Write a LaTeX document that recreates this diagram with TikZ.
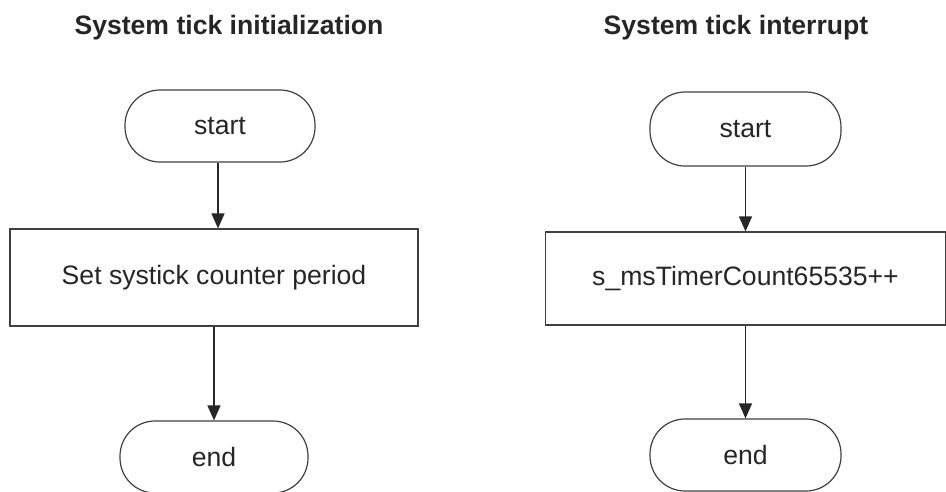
\documentclass[tikz,border=0pt]{standalone}
\usepackage{fontspec}
\setmainfont{Liberation Sans}
\usetikzlibrary{arrows.meta}
\begin{document}
\begin{tikzpicture}[x=1pt,y=-1pt,
  every node/.style={text=black!85, font=\fontsize{26.6}{30}\selectfont},
  terminal/.style={draw=black!75, line width=1.2pt, rectangle, rounded corners=35pt, inner sep=0pt},
  procbox/.style={draw=black!75, line width=1.2pt, rectangle, inner sep=0pt},
  titletext/.style={font=\fontsize{26.6}{30}\selectfont\bfseries},
  flow/.style={draw=black!85, line width=1.2pt, -{Triangle[length=15pt,width=13pt]}}]
\useasboundingbox (0,0) rectangle (946,491);
\clip (0,0) rectangle (946,491);
\fill[white] (0,0) rectangle (946,491);
% left chart
\node[titletext] (lt) at (229,28) {System tick initialization};
\node[terminal, minimum width=190pt, minimum height=72pt] (ls) at (220,126) {start};
\node[procbox, minimum width=408pt, minimum height=97pt] (lb) at (214,277.5) {Set systick counter period};
\node[terminal, minimum width=188pt, minimum height=72pt] (le) at (214,457) {end};
\draw[flow] (ls.south) ++(-2,0) coordinate (lsa) -- (lsa |- lb.north);
\draw[flow] (lb.south) -- (le.north);
% right chart
\node[titletext] (rt) at (736,28) {System tick interrupt};
\node[terminal, minimum width=191pt, minimum height=74pt] (rs) at (745.5,129) {start};
\node[procbox, minimum width=400pt, minimum height=93pt] (rb) at (745.5,278.5) {s\_msTimerCount65535++};
\node[terminal, minimum width=191pt, minimum height=72pt] (re) at (745.5,455) {end};
\draw[flow] (rs.south) -- (rb.north);
\draw[flow] (rb.south) -- (re.north);
\end{tikzpicture}
\end{document}
